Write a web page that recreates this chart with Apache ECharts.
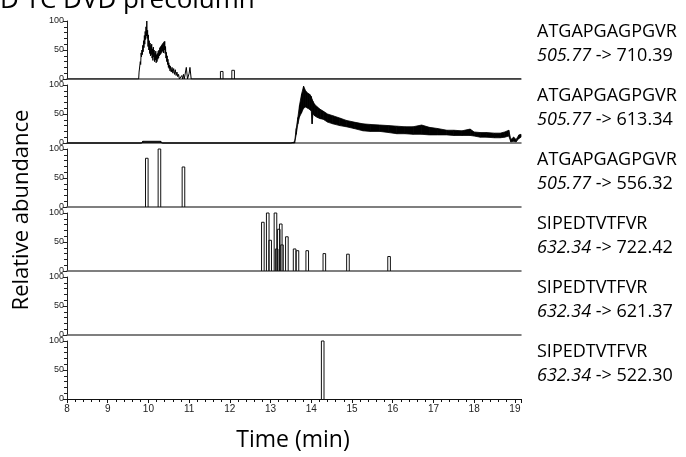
<!DOCTYPE html>
<html>
<head>
<meta charset="utf-8">
<title>TC-DVD precolumn</title>
<script src="https://cdn.jsdelivr.net/npm/echarts/dist/echarts.min.js"></script>
<style>
  html, body { margin: 0; padding: 0; background: #fff; }
  #chart { width: 686px; height: 457px; }
</style>
</head>
<body>
<div id="chart"></div>
<script>
// transition labels, one per panel
var peptides = ['ATGAPGAGPGVR', 'ATGAPGAGPGVR', 'ATGAPGAGPGVR', 'SIPEDTVTFVR', 'SIPEDTVTFVR', 'SIPEDTVTFVR'];
var precursors = ['505.77', '505.77', '505.77', '632.34', '632.34', '632.34'];
var products = ['710.39', '613.34', '556.32', '722.42', '621.37', '522.30'];

// panel 1: [time, relative abundance]
var trace1 = [
  [8.00, 0], [9.76, 0], [9.77, 12], [9.79, 14], [9.80, 30], [9.81, 25], [9.82, 45], [9.83, 38], [9.84, 50],
  [9.85, 42], [9.86, 58], [9.87, 47], [9.88, 66], [9.89, 54], [9.90, 75], [9.91, 60], [9.92, 82], [9.93, 68],
  [9.94, 90], [9.95, 74], [9.96, 100], [9.97, 70], [9.98, 84], [9.99, 56], [10.00, 76], [10.01, 50], [10.02, 66],
  [10.03, 44], [10.04, 62], [10.05, 40], [10.06, 58], [10.07, 42], [10.08, 60], [10.09, 36], [10.10, 52],
  [10.11, 32], [10.12, 55], [10.13, 38], [10.14, 50], [10.15, 30], [10.16, 45], [10.17, 33], [10.18, 48],
  [10.19, 28], [10.20, 42], [10.21, 30], [10.22, 44], [10.23, 34], [10.24, 48], [10.25, 36], [10.26, 50],
  [10.27, 40], [10.28, 54], [10.29, 42], [10.30, 56], [10.31, 44], [10.32, 58], [10.33, 46], [10.34, 60],
  [10.35, 48], [10.36, 62], [10.37, 45], [10.38, 64], [10.39, 50], [10.40, 65], [10.41, 44], [10.42, 56],
  [10.43, 36], [10.44, 46], [10.45, 30], [10.46, 40], [10.47, 25], [10.48, 34], [10.49, 20], [10.50, 28],
  [10.51, 18], [10.52, 24], [10.53, 14], [10.54, 22], [10.56, 12], [10.58, 20], [10.60, 10], [10.62, 18],
  [10.64, 8], [10.66, 16], [10.68, 6], [10.70, 12], [10.72, 4], [10.74, 8], [10.76, 0], [10.80, 0], [10.82, 6],
  [10.84, 0], [10.86, 8], [10.88, 0], [10.92, 0], [10.93, 20], [10.95, 20], [10.96, 0], [10.99, 0], [11.00, 10],
  [11.02, 20], [11.04, 20], [11.05, 0], [19.15, 0]
];
var peaks1 = [[11.80, 13], [12.08, 15]];

// panel 2: noisy band, lower and upper edge
var bandTime = [8.00, 9.83, 9.86, 10.30, 10.34, 13.50, 13.59, 13.63, 13.67, 13.71, 13.76, 13.81, 13.86, 13.91,
  13.96, 14.00, 14.02, 14.04, 14.08, 14.15, 14.22, 14.29, 14.40, 14.53, 14.70, 14.86, 15.05, 15.27, 15.45,
  15.68, 15.90, 16.10, 16.30, 16.50, 16.71, 16.90, 17.10, 17.33, 17.50, 17.70, 17.90, 18.00, 18.15, 18.30,
  18.50, 18.64, 18.75, 18.85, 18.90, 18.97, 19.03, 19.10, 19.15];
var bandUpper = [0, 0, 3, 3, 0, 0, 2, 25, 44, 65, 84, 98, 90, 86, 84, 80, 75, 72, 67, 62, 58, 55, 50, 47, 43,
  39, 36, 33, 32, 31, 30, 29, 28, 28, 31, 27, 25, 22, 22, 21, 24, 19, 18, 18, 17, 17, 19, 22, 6, 10, 6, 14, 15];
var bandLower = [0, 0, 1, 1, 0, 0, 0, 15, 33, 45, 52, 60, 62, 60, 58, 55, 33, 50, 47, 44, 42, 41, 36, 33, 30,
  28, 25, 21, 20, 20, 18, 16, 16, 15, 15, 14, 14, 14, 13, 13, 13, 12, 10, 10, 9, 9, 10, 12, 2, 3, 2, 8, 10];

// panels 3, 4, 6: narrow peaks [time, height]
var peaks3 = [[9.96, 84], [10.27, 100], [10.86, 69]];
var peaks4 = [[12.81, 84], [12.93, 100], [12.99, 53], [13.12, 100], [13.15, 38], [13.20, 72], [13.25, 81],
  [13.28, 45], [13.40, 59], [13.59, 38], [13.66, 35], [13.90, 35], [14.32, 30], [14.90, 29], [15.91, 25]];
var peaks6 = [[14.28, 100]];

var PEAK_HALF = 0.032;
var X_MIN = 8, X_MAX = 19.15;
var LEFT = 67, RIGHT_EDGE = 521, TOP0 = 21, STEP = 64, PANEL_H = 58;
var LABEL_FONT = '18px "Open Sans"';

function renderPeak(params, api) {
  var t = api.value(0), h = api.value(1);
  var pts = [
    api.coord([t - PEAK_HALF, 0]), api.coord([t - PEAK_HALF, h]),
    api.coord([t + PEAK_HALF, h]), api.coord([t + PEAK_HALF, 0])
  ];
  return { type: 'polyline', shape: { points: pts }, style: { stroke: '#111', lineWidth: 1, fill: null } };
}

function renderBand(params, api) {
  var pts = [
    api.coord([api.value(0), api.value(2)]), api.coord([api.value(3), api.value(5)]),
    api.coord([api.value(3), api.value(4)]), api.coord([api.value(0), api.value(1)])
  ];
  return { type: 'polygon', shape: { points: pts }, style: { fill: '#000', stroke: '#000', lineWidth: 0.8 } };
}

var bandData = [];
for (var i = 0; i < bandTime.length - 1; i++) {
  bandData.push([bandTime[i], bandLower[i], bandUpper[i], bandTime[i + 1], bandLower[i + 1], bandUpper[i + 1]]);
}

var grids = [], xAxes = [], yAxes = [], graphics = [];
for (var p = 0; p < 6; p++) {
  var panelTop = TOP0 + STEP * p;
  var last = p === 5;
  grids.push({ left: LEFT, width: RIGHT_EDGE - LEFT, top: panelTop, height: PANEL_H });
  xAxes.push({
    gridIndex: p, type: 'value', min: X_MIN, max: X_MAX, interval: 1,
    axisLine: { show: true, onZero: false, lineStyle: { color: last ? '#111' : '#555', width: last ? 1 : 1.5 } },
    axisTick: { show: last, length: 4, lineStyle: { color: '#111' } },
    minorTick: { show: last, splitNumber: 5, length: 3, lineStyle: { color: '#111' } },
    axisLabel: { show: last, fontSize: 10, fontFamily: 'Liberation Sans', color: '#222', margin: 5, showMaxLabel: false },
    splitLine: { show: false }
  });
  yAxes.push({
    gridIndex: p, type: 'value', min: 0, max: 100, interval: 50,
    axisLine: { show: true, lineStyle: { color: '#222', width: 1 } },
    axisTick: { show: true, length: 4, lineStyle: { color: '#222' } },
    minorTick: { show: true, splitNumber: 5, length: 3, lineStyle: { color: '#222' } },
    axisLabel: { fontSize: 9, fontFamily: 'Liberation Sans', color: '#222', margin: 3 },
    splitLine: { show: false }
  });
  graphics.push({
    type: 'text', left: 537, top: panelTop + 2,
    style: { text: peptides[p], font: LABEL_FONT, fill: '#000' }
  });
  graphics.push({
    type: 'text', left: 537, top: panelTop + 26,
    style: {
      text: '{i|' + precursors[p] + '}{n| -> ' + products[p] + '}',
      fill: '#000',
      rich: {
        i: { font: 'italic ' + LABEL_FONT, fill: '#000' },
        n: { font: LABEL_FONT, fill: '#000' }
      }
    }
  });
}

graphics.push({
  type: 'text', left: 0, top: -12,
  style: { text: 'D TC DVD precolumn', font: '26px "Open Sans"', fill: '#000' }
});
graphics.push({
  type: 'text', x: 22, y: 210, rotation: Math.PI / 2,
  style: { text: 'Relative abundance', font: '22px "Open Sans"', fill: '#000', align: 'center', verticalAlign: 'middle' }
});
graphics.push({
  type: 'text', x: 293, y: 440,
  style: { text: 'Time (min)', font: '23px "Open Sans"', fill: '#000', align: 'center', verticalAlign: 'middle' }
});

var option = {
  animation: false,
  grid: grids,
  xAxis: xAxes,
  yAxis: yAxes,
  graphic: { elements: graphics },
  series: [
    { type: 'line', xAxisIndex: 0, yAxisIndex: 0, data: trace1, showSymbol: false,
      lineStyle: { color: '#000', width: 1 } },
    { type: 'custom', xAxisIndex: 0, yAxisIndex: 0, data: peaks1, renderItem: renderPeak },
    { type: 'custom', xAxisIndex: 1, yAxisIndex: 1, data: bandData, renderItem: renderBand,
      encode: { x: [0, 3], y: [1, 2, 4, 5] } },
    { type: 'custom', xAxisIndex: 2, yAxisIndex: 2, data: peaks3, renderItem: renderPeak },
    { type: 'custom', xAxisIndex: 3, yAxisIndex: 3, data: peaks4, renderItem: renderPeak },
    { type: 'custom', xAxisIndex: 5, yAxisIndex: 5, data: peaks6, renderItem: renderPeak }
  ]
};

var myChart = echarts.init(document.getElementById('chart'));
myChart.setOption(option);
</script>
</body>
</html>
